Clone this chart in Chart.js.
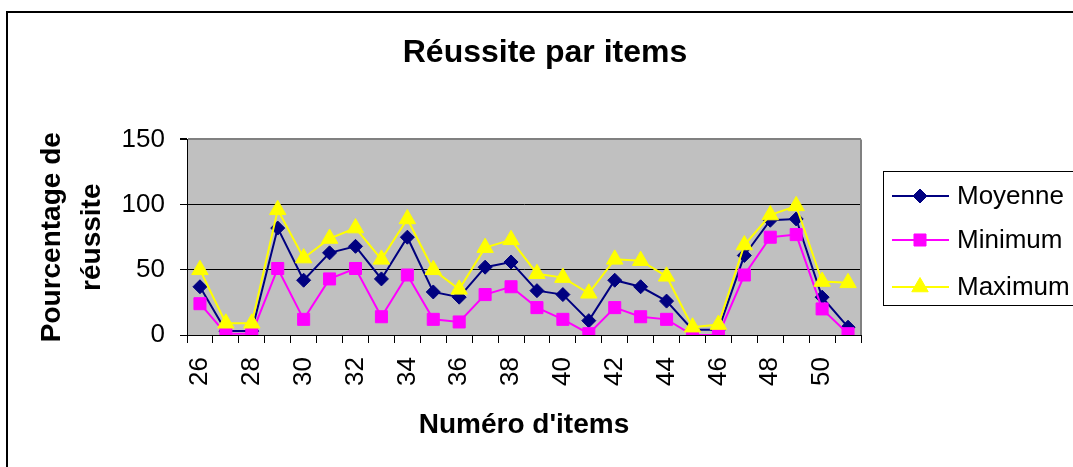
<!DOCTYPE html>
<html>
<head>
<meta charset="utf-8">
<script src="https://cdn.jsdelivr.net/npm/chart.js@4.4.1/dist/chart.umd.min.js"></script>
<style>
  html, body { margin: 0; padding: 0; background: #fff; }
  #wrap { width: 1073px; height: 467px; }
</style>
</head>
<body>
<div id="wrap"><canvas id="chart" width="1073" height="467"></canvas></div>
<script>
const items = ["26", "27", "28", "29", "30", "31", "32", "33", "34", "35", "36", "37", "38",
  "39", "40", "41", "42", "43", "44", "45", "46", "47", "48", "49", "50", "51"];
const moyenne = [37, 3, 3, 82, 42, 63, 68, 43, 75, 33, 29, 52, 56, 34, 31, 11, 42, 37, 26, 4, 4, 61, 88, 89, 29, 6];
const minimum = [24, 1, 1, 51, 12, 43, 51, 14, 46, 12, 10, 31, 37, 21, 12, 1, 21, 14, 12, 0, 0, 46, 75, 77, 20, 1];
const maximum = [50, 9, 9, 96, 59, 74, 82, 58, 89, 50, 35, 67, 73, 47, 44, 32, 58, 57, 45, 6, 8, 69, 92, 99, 41, 40];
const yTicks = [0, 50, 100, 150];

const police = "'Liberation Sans', Arial, sans-serif";

// fond gris de la zone de tracé + cadre extérieur
const fondPlugin = {
  id: "fond",
  beforeDraw(chart) {
    const { ctx, chartArea: a } = chart;
    ctx.save();
    ctx.fillStyle = "#fff";
    ctx.fillRect(0, 0, chart.width, chart.height);
    ctx.fillStyle = "#c0c0c0";
    ctx.fillRect(a.left, a.top, a.right - a.left, a.bottom - a.top);
    ctx.lineWidth = 2;
    ctx.strokeStyle = "#000";
    ctx.strokeRect(7, 12, 1200, 600);
    ctx.restore();
  },
  beforeDatasetsDraw(chart) {
    const { ctx, chartArea: a } = chart;
    ctx.save();
    ctx.strokeStyle = "#808080";
    ctx.lineWidth = 2;
    ctx.beginPath();
    ctx.moveTo(a.right, a.top);
    ctx.lineTo(a.right, a.bottom);
    ctx.stroke();
    ctx.restore();
  },
};

// légende encadrée à droite
const legendePlugin = {
  id: "legende",
  afterDraw(chart) {
    const { ctx } = chart;
    const x0 = 883, y0 = 171;
    const lignesY = [196, 240, 287];
    ctx.save();
    ctx.fillStyle = "#fff";
    ctx.fillRect(x0, y0, 300, 134);
    ctx.strokeStyle = "#000";
    ctx.lineWidth = 1;
    ctx.strokeRect(x0 + 0.5, y0 + 0.5, 300, 134);
    chart.data.datasets.forEach((ds, i) => {
      const y = lignesY[i];
      ctx.strokeStyle = ds.borderColor;
      ctx.lineWidth = 2;
      ctx.beginPath();
      ctx.moveTo(892, y);
      ctx.lineTo(949, y);
      ctx.stroke();
      ctx.fillStyle = ds.pointBackgroundColor;
      ctx.strokeStyle = ds.borderColor;
      ctx.lineWidth = 1;
      Chart.helpers.drawPoint(ctx, { pointStyle: ds.pointStyle, radius: ds.pointRadius, borderWidth: 1 }, 920, y);
      ctx.fillStyle = "#000";
      ctx.font = "26px " + police;
      ctx.textBaseline = "middle";
      ctx.textAlign = "left";
      ctx.fillText(ds.label, 957, y + 1);
    });
    ctx.restore();
  },
};

new Chart(document.getElementById("chart"), {
  type: "line",
  data: {
    labels: items,
    datasets: [
      {
        label: "Moyenne",
        data: moyenne,
        borderColor: "#000080",
        backgroundColor: "#000080",
        pointBackgroundColor: "#000080",
        pointStyle: "rectRot",
        pointRadius: 7,
        borderWidth: 2,
        pointBorderWidth: 1,
        order: 2,
      },
      {
        label: "Minimum",
        data: minimum,
        borderColor: "#ff00ff",
        backgroundColor: "#ff00ff",
        pointBackgroundColor: "#ff00ff",
        pointStyle: "rect",
        pointRadius: 8.5,
        borderWidth: 2,
        pointBorderWidth: 1,
        order: 1,
      },
      {
        label: "Maximum",
        data: maximum,
        borderColor: "#ffff00",
        backgroundColor: "#ffff00",
        pointBackgroundColor: "#ffff00",
        pointStyle: "triangle",
        pointRadius: 9.5,
        borderWidth: 2,
        pointBorderWidth: 1,
        order: 0,
      },
    ],
  },
  options: {
    responsive: false,
    animation: false,
    devicePixelRatio: 1,
    layout: { padding: { top: 12, right: 0, left: 17, bottom: 0 } },
    elements: { line: { tension: 0 } },
    scales: {
      x: {
        offset: true,
        grid: {
          offset: true,
          drawOnChartArea: false,
          tickLength: 8,
          color: "#000",
        },
        border: { color: "#000", width: 1 },
        ticks: {
          autoSkip: false,
          maxRotation: 90,
          minRotation: 90,
          padding: 14,
          color: "#000",
          font: { family: police, size: 26 },
          callback: (v, i) => (i % 2 === 0 ? items[i] : ""),
        },
        title: {
          display: true,
          text: "Numéro d'items",
          color: "#000",
          font: { family: police, size: 28, weight: "bold" },
          padding: { top: 0, bottom: 25 },
        },
        afterFit: (scale) => {
          scale.height = 132;
        },
      },
      y: {
        min: 0,
        max: 150,
        afterBuildTicks: (scale) => {
          scale.ticks = yTicks.map((v) => ({ value: v }));
        },
        grid: {
          color: (c) => (c.tick && c.tick.value === 150 ? "#808080" : "#000"),
          tickColor: "#000",
          tickLength: 7,
          lineWidth: (c) => (c.tick && c.tick.value === 150 ? 2 : 1),
        },
        border: { color: "#000", width: 1 },
        ticks: {
          padding: 15,
          color: "#000",
          font: { family: police, size: 26 },
        },
        title: {
          display: true,
          text: ["Pourcentage de", "réussite"],
          color: "#000",
          font: { family: police, size: 28, weight: "bold", lineHeight: 1.4 },
          padding: { top: 16, bottom: 0 },
        },
        afterFit: (scale) => {
          scale.width = 170;
        },
      },
      // axe vide à droite pour réserver la place de la légende
      y2: {
        position: "right",
        min: 0,
        max: 150,
        grid: { display: false },
        border: { display: false },
        ticks: { display: false },
        afterFit: (scale) => {
          scale.width = 212;
        },
      },
    },
    plugins: {
      legend: { display: false },
      tooltip: { enabled: false },
      title: {
        display: true,
        text: "Réussite par items",
        color: "#000",
        font: { family: police, size: 32, weight: "bold" },
        padding: { top: 22, bottom: 67 },
      },
    },
  },
  plugins: [fondPlugin, legendePlugin],
});
</script>
</body>
</html>
